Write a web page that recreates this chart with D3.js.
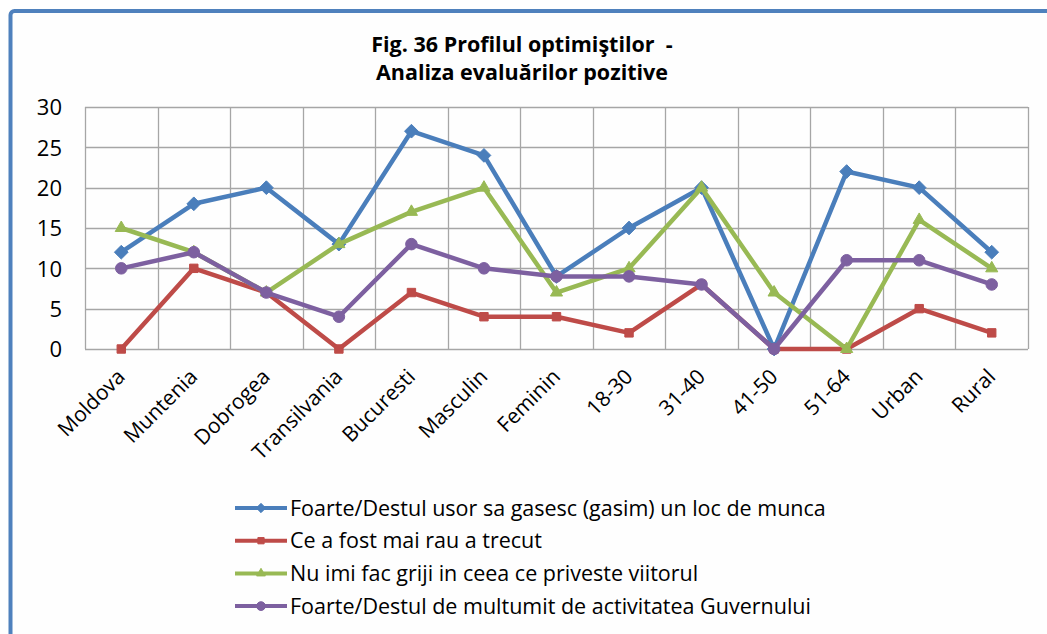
<!DOCTYPE html>
<html>
<head>
<meta charset="utf-8">
<script src="https://cdn.jsdelivr.net/npm/d3@7"></script>
<style>
  html, body { margin: 0; padding: 0; background: #ffffff; }
  svg { display: block; }
  text { font-family: "Open Sans", Lato, sans-serif; fill: #000; }
</style>
</head>
<body>
<svg id="chart" width="1047" height="634"></svg>
<script>
// Categories along the x axis
const categories = ["Moldova", "Muntenia", "Dobrogea", "Transilvania", "Bucuresti", "Masculin",
  "Feminin", "18-30", "31-40", "41-50", "51-64", "Urban", "Rural"];

// Series values (%)
const usorLocMunca = [12, 18, 20, 13, 27, 24, 9, 15, 20, 0, 22, 20, 12];
const maiRauATrecut = [0, 10, 7, 0, 7, 4, 4, 2, 8, 0, 0, 5, 2];
const faraGrijiViitor = [15, 12, 7, 13, 17, 20, 7, 10, 20, 7, 0, 16, 10];
const multumitGuvern = [10, 12, 7, 4, 13, 10, 9, 9, 8, 0, 11, 11, 8];

const seriesNames = [
  "Foarte/Destul usor sa gasesc (gasim) un loc de munca",
  "Ce a fost mai rau a trecut",
  "Nu imi fac griji in ceea ce priveste viitorul",
  "Foarte/Destul de multumit de activitatea Guvernului"
];

const yTicks = [0, 5, 10, 15, 20, 25, 30];
const titleLines = ["Fig. 36 Profilul optimiştilor  -", "Analiza evaluărilor pozitive"];

const series = [
  { name: seriesNames[0], values: usorLocMunca, color: "#4a7ebb", marker: "diamond" },
  { name: seriesNames[1], values: maiRauATrecut, color: "#be4b48", marker: "square" },
  { name: seriesNames[2], values: faraGrijiViitor, color: "#98b954", marker: "triangle" },
  { name: seriesNames[3], values: multumitGuvern, color: "#7d60a0", marker: "circle" }
];

const svg = d3.select("#chart");

// Outer frame (open on the right and bottom edges of the view)
svg.append("rect")
  .attr("x", 10.5).attr("y", 11)
  .attr("width", 1060).attr("height", 660)
  .attr("rx", 4)
  .attr("fill", "#fefefe")
  .attr("stroke", "#4f81bd")
  .attr("stroke-width", 4);

// Title
const title = svg.append("text")
  .attr("text-anchor", "middle")
  .style("font-weight", "bold")
  .style("font-size", "21.5px")
  .style("white-space", "pre");
titleLines.forEach((t, i) => {
  title.append("tspan").attr("x", 522).attr("y", 52 + i * 28).text(t);
});

const plot = { left: 85, top: 107, right: 1028, bottom: 349 };

const x = d3.scaleBand().domain(categories).range([plot.left, plot.right]).padding(0);
const y = d3.scaleLinear().domain([0, 30]).range([plot.bottom, plot.top]);
const cx = c => x(c) + x.bandwidth() / 2;

// Horizontal gridlines
svg.append("g")
  .selectAll("line").data(yTicks).join("line")
  .attr("x1", plot.left).attr("x2", plot.right)
  .attr("y1", d => Math.round(y(d)) + 0.5).attr("y2", d => Math.round(y(d)) + 0.5)
  .attr("stroke", "#a6a6a6").attr("stroke-width", 1.3);

// Vertical gridlines at category boundaries
const bounds = categories.map(c => x(c)).concat([plot.right]);
svg.append("g")
  .selectAll("line").data(bounds).join("line")
  .attr("x1", d => Math.round(d) + 0.5).attr("x2", d => Math.round(d) + 0.5)
  .attr("y1", plot.top).attr("y2", plot.bottom)
  .attr("stroke", "#a6a6a6").attr("stroke-width", 1.3);

// Y axis labels
const yAxis = d3.axisLeft(y).tickValues(yTicks).tickSize(0).tickPadding(23);
const gy = svg.append("g").attr("transform", `translate(${plot.left},0)`).call(yAxis);
gy.select(".domain").remove();
gy.selectAll("text")
  .style("font-family", "'Open Sans', Lato, sans-serif")
  .style("font-size", "22px").attr("fill", "#000").attr("dy", "0.36em");

// X axis labels rotated 45°
const xAxis = d3.axisBottom(x).tickSize(0).tickPadding(0);
const gx = svg.append("g").attr("transform", `translate(0,${plot.bottom})`).call(xAxis);
gx.select(".domain").remove();
gx.selectAll("text")
  .style("font-family", "'Open Sans', Lato, sans-serif")
  .style("font-size", "21px").attr("fill", "#000")
  .attr("text-anchor", "end")
  .attr("y", 0).attr("dy", 0)
  .attr("transform", "translate(5,29) rotate(-45)");

// Marker shapes
const symbolTypes = {
  diamond: d3.symbolDiamond2,
  square: d3.symbolSquare2,
  triangle: d3.symbolTriangle2,
  circle: d3.symbolCircle
};
const plotMarkerSize = { diamond: 120, square: 90, triangle: 105, circle: 105 };
const legendMarkerSize = { diamond: 55, square: 50, triangle: 55, circle: 60 };

const line = d3.line()
  .x((d, i) => cx(categories[i]))
  .y(d => y(d));

series.forEach(s => {
  const g = svg.append("g");
  g.append("path")
    .attr("d", line(s.values))
    .attr("fill", "none")
    .attr("stroke", s.color)
    .attr("stroke-width", 4.5)
    .attr("stroke-linejoin", "round");
  g.selectAll("path.m").data(s.values).join("path")
    .attr("class", "m")
    .attr("d", d3.symbol().type(symbolTypes[s.marker]).size(plotMarkerSize[s.marker])())
    .attr("transform", (d, i) => `translate(${cx(categories[i])},${y(d)})`)
    .attr("fill", s.color)
    .attr("stroke", s.color)
    .attr("stroke-width", 1);
});

// Legend
const legend = svg.append("g");
series.forEach((s, i) => {
  const ly = 508 + i * 32.7;
  const row = legend.append("g").attr("transform", `translate(0,${ly})`);
  row.append("line")
    .attr("x1", 235).attr("x2", 287).attr("y1", 0).attr("y2", 0)
    .attr("stroke", s.color).attr("stroke-width", 4);
  row.append("path")
    .attr("d", d3.symbol().type(symbolTypes[s.marker]).size(legendMarkerSize[s.marker])())
    .attr("transform", "translate(261,0)")
    .attr("fill", s.color).attr("stroke", s.color);
  row.append("text")
    .attr("x", 290).attr("y", 0).attr("dy", "0.36em")
    .style("font-size", "21.5px")
    .text(s.name);
});
</script>
</body>
</html>
